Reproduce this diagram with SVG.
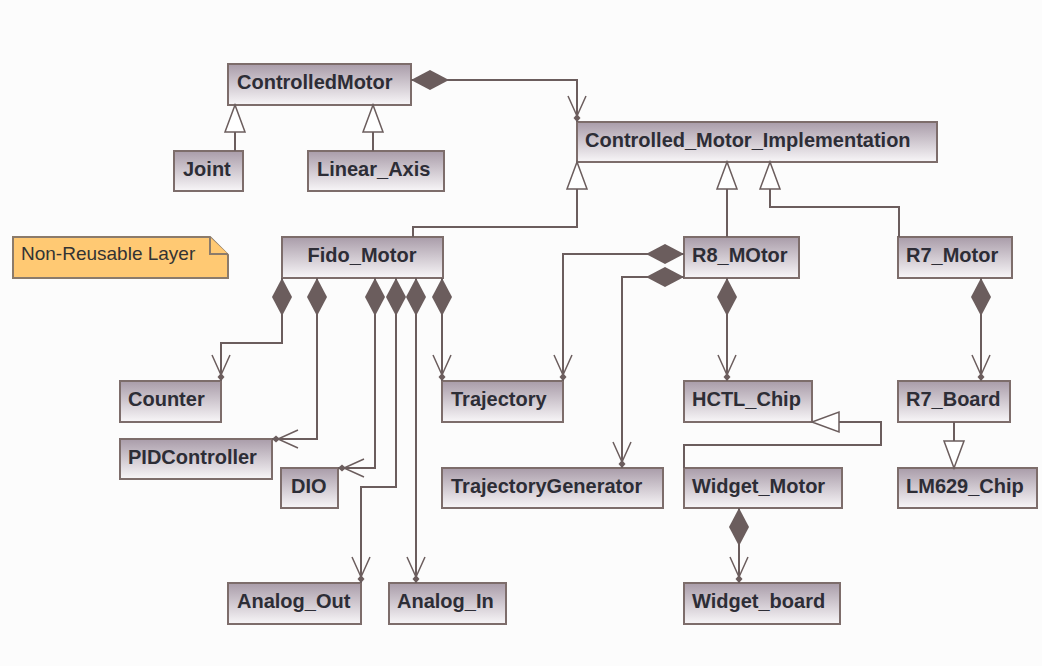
<svg xmlns="http://www.w3.org/2000/svg" width="1042" height="666" viewBox="0 0 1042 666">
  <defs>
    <linearGradient id="classFill" x1="0" y1="0" x2="0" y2="1">
      <stop offset="0" stop-color="#a99ca9"/>
      <stop offset="1" stop-color="#f8f6f8"/>
    </linearGradient>
    <!-- filled composition diamond, drawn at the owning end -->
    <marker id="comp" markerUnits="userSpaceOnUse" markerWidth="60" markerHeight="30" refX="0" refY="0" orient="auto" overflow="visible">
      <path d="M0,0 L19,-10 L38,0 L19,10 Z" fill="#6b5d5d"/>
    </marker>
    <!-- navigable end: open arrow with a small dot -->
    <marker id="nav" markerUnits="userSpaceOnUse" markerWidth="40" markerHeight="30" refX="0" refY="0" orient="auto" overflow="visible">
      <path d="M-26,-9 L-6,0 L-26,9" fill="none" stroke="#6b5d5d" stroke-width="1.5"/>
      <path d="M0,0 L-4,-3.5 L-8,0 L-4,3.5 Z" fill="#6b5d5d"/>
    </marker>
    <!-- hollow generalization triangle -->
    <marker id="gen" markerUnits="userSpaceOnUse" markerWidth="40" markerHeight="30" refX="0" refY="0" orient="auto" overflow="visible">
      <path d="M0,0 L-27,-10 L-27,10 Z" fill="#ffffff" stroke="#6b5d5d" stroke-width="1.5"/>
    </marker>
    <style>
      .cls rect { fill: url(#classFill); stroke: #7d6d6b; stroke-width: 2; }
      .cls text { font-family: "Liberation Sans", Arial, sans-serif; font-weight: bold; font-size: 20px; fill: #2d2d36; }
      .edge { fill: none; stroke: #6b5d5d; stroke-width: 2; }
      .c { marker-start: url(#comp); marker-end: url(#nav); }
      .g { marker-end: url(#gen); }
      .note path { fill: #ffc973; stroke: #8b7b6b; stroke-width: 2; }
      .note text { font-family: "Liberation Sans", Arial, sans-serif; font-size: 19px; fill: #333333; }
    </style>
  </defs>

  <rect x="0" y="0" width="1042" height="666" fill="#fcfcfc"/>

  <!-- note -->
  <g id="note" class="note">
    <path d="M13,237 H210 L228,255 V278 H13 Z"/>
    <path d="M210,237 V254 H228" fill="none"/>
    <text x="21" y="260">Non-Reusable Layer</text>
  </g>

  <!-- classes -->
  <g id="ControlledMotor" class="cls"><rect x="228" y="64" width="183" height="41"/><text x="237" y="89">ControlledMotor</text></g>
  <g id="Joint" class="cls"><rect x="174" y="151" width="69" height="40"/><text x="183" y="176">Joint</text></g>
  <g id="Linear_Axis" class="cls"><rect x="308" y="151" width="136" height="40"/><text x="317" y="176">Linear_Axis</text></g>
  <g id="Controlled_Motor_Implementation" class="cls"><rect x="577" y="122" width="360" height="40"/><text x="585" y="147">Controlled_Motor_Implementation</text></g>
  <g id="Fido_Motor" class="cls"><rect x="282" y="237" width="161" height="41"/><text x="362" y="262" text-anchor="middle">Fido_Motor</text></g>
  <g id="R8_MOtor" class="cls"><rect x="684" y="237" width="115" height="41"/><text x="692" y="262">R8_MOtor</text></g>
  <g id="R7_Motor" class="cls"><rect x="898" y="237" width="114" height="41"/><text x="906" y="262">R7_Motor</text></g>
  <g id="Counter" class="cls"><rect x="120" y="381" width="101" height="41"/><text x="128" y="406">Counter</text></g>
  <g id="Trajectory" class="cls"><rect x="442" y="381" width="121" height="41"/><text x="451" y="406">Trajectory</text></g>
  <g id="HCTL_Chip" class="cls"><rect x="684" y="381" width="128" height="41"/><text x="692" y="406">HCTL_Chip</text></g>
  <g id="R7_Board" class="cls"><rect x="898" y="381" width="112" height="41"/><text x="906" y="406">R7_Board</text></g>
  <g id="PIDController" class="cls"><rect x="120" y="439" width="152" height="40"/><text x="128" y="464">PIDController</text></g>
  <g id="DIO" class="cls"><rect x="281" y="468" width="57" height="40"/><text x="291" y="493">DIO</text></g>
  <g id="TrajectoryGenerator" class="cls"><rect x="442" y="468" width="221" height="40"/><text x="451" y="493">TrajectoryGenerator</text></g>
  <g id="Widget_Motor" class="cls"><rect x="684" y="468" width="158" height="40"/><text x="692" y="493">Widget_Motor</text></g>
  <g id="LM629_Chip" class="cls"><rect x="898" y="468" width="139" height="40"/><text x="906" y="493">LM629_Chip</text></g>
  <g id="Analog_Out" class="cls"><rect x="228" y="583" width="133" height="41"/><text x="237" y="608">Analog_Out</text></g>
  <g id="Analog_In" class="cls"><rect x="389" y="583" width="117" height="41"/><text x="397" y="608">Analog_In</text></g>
  <g id="Widget_board" class="cls"><rect x="684" y="583" width="156" height="41"/><text x="692" y="608">Widget_board</text></g>

  <!-- connectors -->
  <g id="connectors" class="edge">
    <!-- compositions -->
    <path class="c" d="M411,80 H577 V122"/>
    <path class="c" d="M282,278 V343 H221 V381"/>
    <path class="c" d="M317,278 V439 H272"/>
    <path class="c" d="M375,278 V468 H338"/>
    <path class="c" d="M396,278 V487 H361 V583"/>
    <path class="c" d="M416,278 V583"/>
    <path class="c" d="M442,278 V381"/>
    <path class="c" d="M684,254 H563 V381"/>
    <path class="c" d="M684,277 H622 V468"/>
    <path class="c" d="M727,278 V381"/>
    <path class="c" d="M981,278 V381"/>
    <path class="c" d="M739,508 V583"/>
    <!-- generalizations -->
    <path class="g" d="M235,151 V105"/>
    <path class="g" d="M373,151 V105"/>
    <path class="g" d="M413,237 V227 H577 V162"/>
    <path class="g" d="M727,237 V162"/>
    <path class="g" d="M899,237 V207 H770 V162"/>
    <path class="g" d="M684,468 V445 H881 V422 H812"/>
    <path class="g" d="M954,422 V468"/>
  </g>
</svg>
